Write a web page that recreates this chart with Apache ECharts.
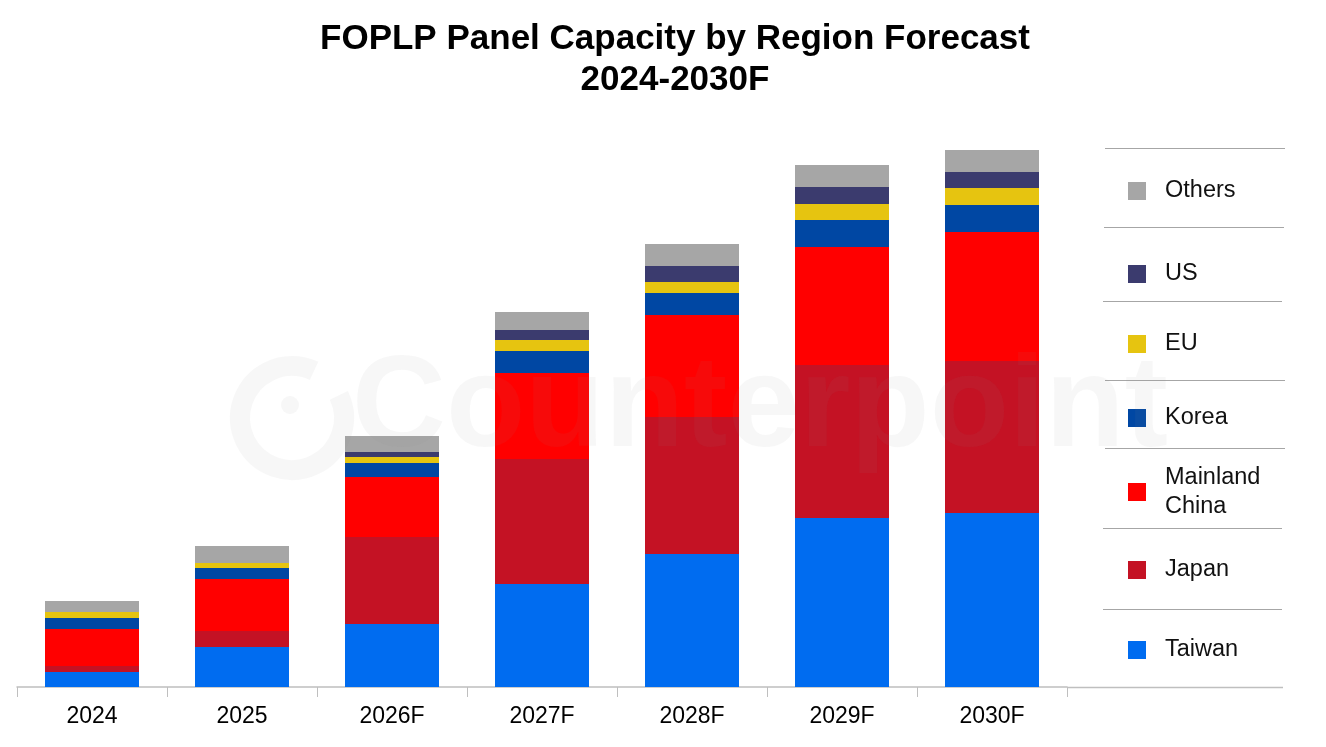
<!DOCTYPE html>
<html>
<head>
<meta charset="utf-8">
<script src="https://cdn.jsdelivr.net/npm/echarts@6/dist/echarts.min.js"></script>
<style>
html,body{margin:0;padding:0;background:#fff;}
#chart{width:1326px;height:747px;}
</style>
</head>
<body>
<div id="chart"></div>
<script>
const categories = ['2024', '2025', '2026F', '2027F', '2028F', '2029F', '2030F'];
const taiwan = [15, 40, 63, 103, 133, 169, 174];
const japan = [6, 16, 87, 125, 137, 153, 152];
const mainlandChina = [37, 52, 60, 86, 102, 118, 129];
const korea = [11, 11, 14, 22, 22, 27, 27];
const eu = [6, 5, 6, 11, 11, 16, 17];
const us = [0, 0, 5, 10, 16, 17, 16];
const others = [11, 17, 16, 18, 22, 22, 22];

const seriesNames = ['Taiwan', 'Japan', 'Mainland China', 'Korea', 'EU', 'US', 'Others'];
const seriesData = [taiwan, japan, mainlandChina, korea, eu, us, others];
const seriesColors = ['#006cf0', '#c41224', '#ff0000', '#0047a3', '#e6c410', '#3b3b6e', '#a6a6a6'];

const FONT = '"Liberation Sans", Arial, sans-serif';

const chart = echarts.init(document.getElementById('chart'));

const legendCenters = {Others: 191, US: 274, EU: 344, Korea: 418, 'Mainland China': 493, Japan: 570, Taiwan: 650};
const legends = seriesNames.map(function (name) {
  const two = name === 'Mainland China';
  return {
    data: [name],
    left: 1128,
    top: legendCenters[name] - (two ? 30 : 13),
    padding: 0,
    icon: 'rect',
    itemWidth: 18,
    itemHeight: 18,
    selectedMode: false,
    formatter: function (n) { return n === 'Mainland China' ? 'Mainland\nChina' : n; },
    textStyle: {fontFamily: FONT, fontSize: 23.5, color: '#111', lineHeight: two ? 29 : 26, padding: [0, 0, 0, 14]}
  };
});

const lineYs = [[148, 1105, 1285], [227, 1104, 1284], [301, 1103, 1282], [380, 1105, 1285], [448, 1105, 1285], [528, 1103, 1282], [609, 1103, 1282]];
const graphics = lineYs.map(function (l) {
  return {type: 'line', shape: {x1: l[1], y1: l[0] + 0.5, x2: l[2], y2: l[0] + 0.5}, style: {stroke: '#a6a6a6', lineWidth: 1}, silent: true};
});
graphics.push({type: 'line', shape: {x1: 1067, y1: 687.5, x2: 1283, y2: 687.5}, style: {stroke: '#bfbfbf', lineWidth: 1.5}, silent: true});
// watermark
const WM = 'rgba(140,140,140,0.07)';
graphics.push({type: 'arc', z: 100, shape: {cx: 292, cy: 418, r: 52, startAngle: -0.45, endAngle: 5.15, clockwise: true}, style: {stroke: WM, fill: null, lineWidth: 20}, silent: true});
graphics.push({type: 'circle', z: 100, shape: {cx: 290, cy: 405, r: 9}, style: {fill: WM}, silent: true});
graphics.push({type: 'text', z: 100, left: 352, top: 345, style: {text: 'Counterpoint', fontFamily: FONT, fontWeight: 'bold', fontSize: 130, fill: WM}, silent: true});

chart.setOption({
  animation: false,
  backgroundColor: '#fff',
  title: {
    text: 'FOPLP Panel Capacity by Region Forecast\n2024-2030F',
    left: 670,
    textAlign: 'center',
    top: 14,
    textStyle: {fontFamily: FONT, fontWeight: 'bold', fontSize: 35, color: '#000', lineHeight: 41}
  },
  legend: legends,
  grid: {left: 17, right: 259, top: 87, bottom: 60, containLabel: false},
  xAxis: {
    type: 'category',
    data: categories,
    axisLine: {lineStyle: {color: '#bfbfbf', width: 1.5}},
    axisTick: {show: true, length: 10, lineStyle: {color: '#bfbfbf'}},
    axisLabel: {fontFamily: FONT, fontSize: 23, color: '#000', margin: 18}
  },
  yAxis: {type: 'value', min: 0, max: 600, show: false, splitLine: {show: false}},
  series: seriesNames.map(function (name, i) {
    return {
      name: name,
      type: 'bar',
      stack: 'total',
      barWidth: 94,
      data: seriesData[i],
      itemStyle: {color: seriesColors[i]}
    };
  }),
  graphic: graphics
});
</script>
</body>
</html>
